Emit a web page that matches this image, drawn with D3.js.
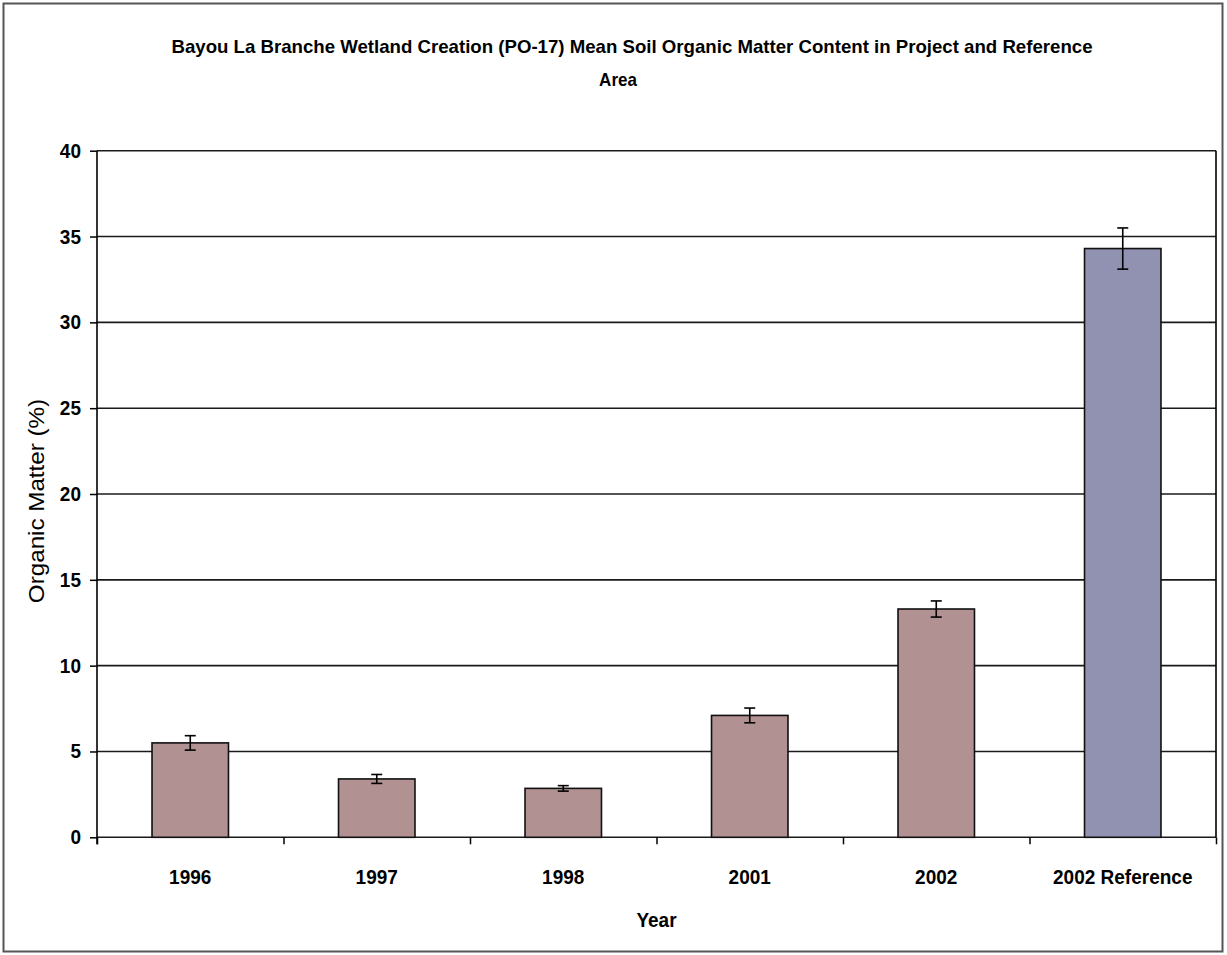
<!DOCTYPE html>
<html>
<head>
<meta charset="utf-8">
<script src="https://cdn.jsdelivr.net/npm/d3@7"></script>
<style>
  body { margin: 0; background: #fff; }
  text { font-family: "Liberation Sans", Arial, sans-serif; fill: #000; }
</style>
</head>
<body>
<div id="chart"></div>
<script>
// data
var categories = ["1996", "1997", "1998", "2001", "2002", "2002 Reference"];
var areas = ["Project", "Project", "Project", "Project", "Project", "Reference"];
var means = [5.5, 3.4, 2.85, 7.1, 13.3, 34.3];
var errors = [0.42, 0.26, 0.16, 0.43, 0.47, 1.2];
var yTicks = [0, 5, 10, 15, 20, 25, 30, 35, 40];
var titleLines = ["Bayou La Branche Wetland Creation (PO-17) Mean Soil Organic Matter Content in Project and Reference", "Area"];

var W = 1227, H = 955;
var margin = {top: 150.7, left: 97, right: 11, bottom: 117.7};
var width = W - margin.left - margin.right;
var height = H - margin.top - margin.bottom;
var stretch = 1.1; // the picture is a little taller than wide

var svg = d3.select("#chart").append("svg")
	.attr("width", W)
	.attr("height", H);

// outer frame
svg.append("rect")
	.attr("x", 3.5).attr("y", 3.5)
	.attr("width", W - 8).attr("height", H - 7)
	.attr("fill", "none")
	.attr("stroke", "#555")
	.attr("stroke-width", 2);

function label(x, y, str, size, weight, anchor, rot) {
	var t = svg.append("text")
		.attr("transform", "translate(" + x + "," + y + ")" + (rot ? " rotate(" + rot + ")" : "") + " scale(" + (rot ? stretch + ",1" : "1," + stretch) + ")")
		.style("font-size", size + "px")
		.style("font-weight", weight)
		.style("text-anchor", anchor)
		.text(str);
	return t;
}

// title
label(632, 53, titleLines[0], 17, "bold", "middle").attr("textLength", 921).attr("lengthAdjust", "spacingAndGlyphs");
label(618, 86, titleLines[1], 17, "bold", "middle");

var g = svg.append("g")
	.attr("transform", "translate(" + margin.left + "," + margin.top + ")");

var x = d3.scaleBand()
	.domain(categories)
	.range([0, width])
	.paddingInner(0.59)
	.paddingOuter(0.295);

var xEdge = d3.scaleLinear()
	.domain([0, categories.length])
	.range([0, width]);

var y = d3.scaleLinear()
	.domain([0, 40])
	.range([height, 0]);

var color = d3.scaleOrdinal()
	.domain(["Project", "Reference"])
	.range(["#b19191", "#9191b1"]);

// gridlines + left axis
var yAxis = g.append("g")
	.call(d3.axisLeft(y).tickValues(yTicks).tickSize(7).tickFormat(""));
yAxis.select(".domain").remove();
yAxis.selectAll(".tick line").attr("stroke", "#000").attr("stroke-width", 1.5);

g.append("g")
	.selectAll("line")
	.data(yTicks)
	.enter().append("line")
		.attr("x1", 0).attr("x2", width)
		.attr("y1", function(d) { return y(d); })
		.attr("y2", function(d) { return y(d); })
		.attr("stroke", "#1a1a1a")
		.attr("stroke-width", 1.6);

yTicks.forEach(function(d) {
	label(margin.left - 16, margin.top + y(d) + 7, d, 19, "bold", "end");
});

// bottom ticks
var xAxis = g.append("g")
	.attr("transform", "translate(0," + height + ")")
	.call(d3.axisBottom(xEdge).tickValues(d3.range(0, categories.length + 1)).tickSize(7).tickFormat(""));
xAxis.select(".domain").remove();
xAxis.selectAll(".tick line").attr("stroke", "#000").attr("stroke-width", 1.5);

// axis lines
g.append("line")
	.attr("x1", 0).attr("x2", 0)
	.attr("y1", 0).attr("y2", height + 7)
	.attr("stroke", "#000").attr("stroke-width", 1.6);
g.append("line")
	.attr("x1", width).attr("x2", width)
	.attr("y1", 0).attr("y2", height)
	.attr("stroke", "#000").attr("stroke-width", 1.6);

// bars
g.selectAll("rect.bar")
	.data(categories)
	.enter().append("rect")
		.attr("class", "bar")
		.attr("x", function(d) { return x(d); })
		.attr("width", x.bandwidth())
		.attr("y", function(d, i) { return y(means[i]); })
		.attr("height", function(d, i) { return height - y(means[i]); })
		.attr("fill", function(d, i) { return color(areas[i]); })
		.attr("stroke", "#111")
		.attr("stroke-width", 1.6);

// error bars
var err = g.selectAll("g.err")
	.data(categories)
	.enter().append("g")
		.attr("class", "err")
		.attr("transform", function(d) { return "translate(" + (x(d) + x.bandwidth() / 2) + ",0)"; });

err.append("line")
	.attr("y1", function(d, i) { return y(means[i] + errors[i]); })
	.attr("y2", function(d, i) { return y(means[i] - errors[i]); });
err.append("line")
	.attr("x1", -5.5).attr("x2", 5.5)
	.attr("y1", function(d, i) { return y(means[i] + errors[i]); })
	.attr("y2", function(d, i) { return y(means[i] + errors[i]); });
err.append("line")
	.attr("x1", -5.5).attr("x2", 5.5)
	.attr("y1", function(d, i) { return y(means[i] - errors[i]); })
	.attr("y2", function(d, i) { return y(means[i] - errors[i]); });
err.selectAll("line").attr("stroke", "#000").attr("stroke-width", 1.6);

// category labels
categories.forEach(function(d) {
	label(margin.left + x(d) + x.bandwidth() / 2, 884, d, 19, "bold", "middle");
});

// axis titles
label(margin.left + width / 2, 927, "Year", 19, "bold", "middle");
label(44, 501, "Organic Matter (%)", 22, "normal", "middle", -90);
</script>
</body>
</html>
